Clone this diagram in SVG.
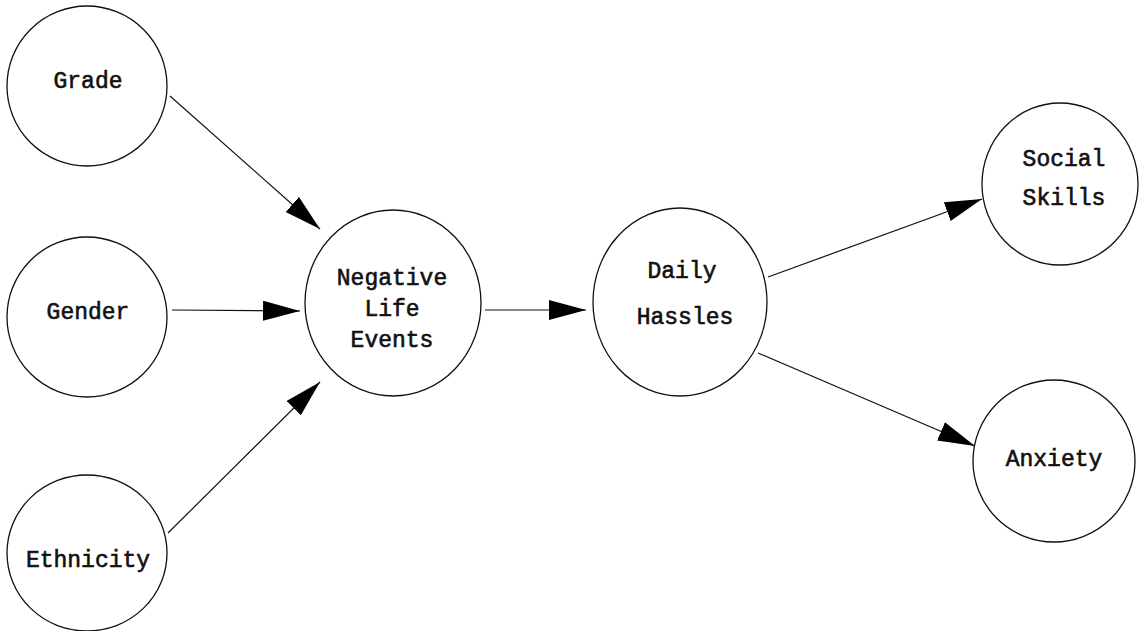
<svg xmlns="http://www.w3.org/2000/svg" width="1144" height="631" viewBox="0 0 1144 631">
<style>
.node{fill:#fff;stroke:#111;stroke-width:1.3}
.lbl{font-family:"Liberation Mono","Courier New",monospace;font-size:23px;font-weight:normal;fill:#111;stroke:#111;stroke-width:0.6;text-anchor:middle}
.edge{stroke:#111;stroke-width:1.2;fill:none;marker-end:url(#arr)}
</style>
<defs>
<marker id="arr" markerUnits="userSpaceOnUse" markerWidth="40" markerHeight="22" refX="37" refY="10" orient="auto" viewBox="0 0 40 22">
<path d="M0,0 L37,10 L0,20 Z" fill="#000"/>
</marker>
</defs>
<rect width="1144" height="631" fill="#fff"/>
<g id="connectors">
<line class="edge" x1="170" y1="96" x2="320" y2="229"/>
<line class="edge" x1="172" y1="310" x2="300" y2="311"/>
<line class="edge" x1="168" y1="533" x2="320" y2="382"/>
<line class="edge" x1="485" y1="310" x2="586" y2="310"/>
<line class="edge" x1="768" y1="277" x2="982" y2="199"/>
<line class="edge" x1="758" y1="353" x2="975" y2="446"/>
</g>
<g id="grade"><ellipse class="node" cx="87" cy="86" rx="80" ry="80"/><text class="lbl" x="88" y="88">Grade</text></g>
<g id="gender"><ellipse class="node" cx="87" cy="317" rx="80" ry="80"/><text class="lbl" x="88" y="319">Gender</text></g>
<g id="ethnicity"><ellipse class="node" cx="87" cy="553" rx="80" ry="78"/><text class="lbl" x="88" y="567">Ethnicity</text></g>
<g id="negative"><ellipse class="node" cx="393" cy="303" rx="88" ry="93"/><text class="lbl" x="392" y="285">Negative</text><text class="lbl" x="392" y="316">Life</text><text class="lbl" x="392" y="347">Events</text></g>
<g id="daily"><ellipse class="node" cx="680" cy="302" rx="87" ry="94"/><text class="lbl" x="682" y="278">Daily</text><text class="lbl" x="685" y="324">Hassles</text></g>
<g id="social"><ellipse class="node" cx="1060" cy="184" rx="78" ry="81"/><text class="lbl" x="1064" y="166">Social</text><text class="lbl" x="1064" y="205">Skills</text></g>
<g id="anxiety"><ellipse class="node" cx="1054" cy="461" rx="81" ry="81"/><text class="lbl" x="1054" y="466">Anxiety</text></g>
</svg>
